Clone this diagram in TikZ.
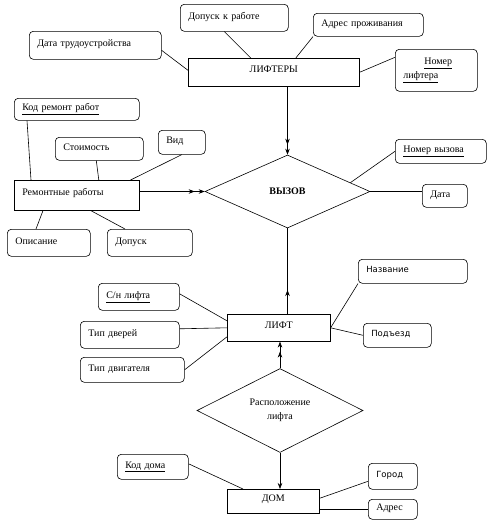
\documentclass[tikz,border=0pt]{standalone}
\usepackage{fontspec}
\setmainfont{Liberation Serif}
\newfontfamily\verd{DejaVu Sans}
\usetikzlibrary{arrows.meta, shapes.geometric, decorations.markings}

\begin{document}
\begin{tikzpicture}[x=1pt, y=-1pt, >={Stealth[length=6pt, width=4.5pt]}, line width=0.6pt,
			font=\fontsize{10}{14.5}\selectfont,
			attr/.style={draw, rounded corners=4pt, anchor=north west, align=left,
				inner xsep=8pt, inner ysep=0pt, text height=7pt, text depth=4pt},
			ent/.style={draw, anchor=north west, inner sep=0pt, text height=7pt, text depth=6pt},
			rel/.style={draw, diamond, inner sep=0pt},
			sf/.style={font=\verd\fontsize{8.5}{10}\selectfont},
			dbl/.style={-{Stealth[length=6pt, width=4.5pt, sep=4pt] Stealth[length=6pt, width=4.5pt]}},
			midarrow/.style={postaction={decorate},
				decoration={markings, mark=at position #1 with {\arrow{>}}}}]
		\useasboundingbox (0,0) rectangle (493,528);

		\node [attr, text width=92pt, minimum height=27pt] at (180,4) (dopusk) {Допуск к работе};
		\node [attr, text width=94pt, minimum height=23pt] at (313,13) (adrpr) {Адрес проживания};
		\node [attr, text width=116pt, minimum height=28pt] at (29,31) (datatr) {Дата трудоустройства};
		\node [ent, minimum width=171pt, minimum height=28pt] at (188,58) (lifters) {ЛИФТЕРЫ};
		\node [attr, text width=66pt, minimum height=42pt, text height={}, text depth={}]
			at (395,49) (nomlf) {\hspace*{21pt}\underline{Номер}\\\underline{лифтера}};

		\node [attr, text width=109pt, minimum height=22pt] at (14,98) (kodrem) {\underline{Код ремонт работ}};
		\node [attr, text width=72pt, minimum height=23pt] at (55,137) (stoim) {Стоимость};
		\node [attr, text width=31pt, minimum height=24pt] at (158,130) (vid) {Вид};
		\node [ent, text width=109pt, align=left, inner xsep=8pt, minimum height=30pt]
			at (14,180) (remont) {Ремонтные работы};
		\node [attr, text width=67pt, minimum height=27pt] at (7,229) (opis) {Описание};
		\node [attr, text width=69pt, minimum height=27pt] at (107,229) (dopuskrab) {Допуск};

		\node [rel, minimum width=165pt, minimum height=73pt] at (287.5,191.5) (vyzov) {\textbf{ВЫЗОВ}};
		\node [attr, text width=75pt, minimum height=24pt] at (395,139) (nomvz) {\underline{Номер вызова}};
		\node [attr, text width=29pt, minimum height=23pt] at (422,184) (data) {Дата};

		\node [ent, minimum width=103pt, minimum height=27pt] at (227,314) (lift) {ЛИФТ};
		\node [attr, text width=65pt, minimum height=27pt] at (98,283) (sn) {\underline{С/н лифта}};
		\node [attr, text width=83pt, minimum height=27pt] at (80,321) (tipdv) {Тип дверей};
		\node [attr, text width=88pt, minimum height=25pt] at (80,357) (tipdg) {Тип двигателя};
		\node [attr, sf, text width=93pt, minimum height=24pt] at (358,259) (nazv) {Название};
		\node [attr, sf, text width=52pt, minimum height=24pt] at (363,323) (podezd) {Подъезд};

		\node [rel, minimum width=166pt, minimum height=75pt, align=center]
			at (280,410.5) (rasp) {Расположение\\лифта};
		\node [ent, minimum width=92pt, minimum height=24pt] at (227,489) (dom) {ДОМ};
		\node [attr, text width=55pt, minimum height=25pt] at (117,454) (koddoma) {\underline{Код дома}};
		\node [attr, sf, text width=33pt, minimum height=26pt] at (368,463) (gorod) {Город};
		\node [attr, text width=33pt, minimum height=20pt] at (368,499) (adres) {Адрес};

		\draw ([xshift=-10pt]dopusk.south) -- ([xshift=-23pt]lifters.north);
		\draw (adrpr.south west) -- ([xshift=22pt]lifters.north);
		\draw ([yshift=-5pt]datatr.east) -- ([yshift=2pt]lifters.west);
		\draw (lifters.east) -- ([yshift=13pt]nomlf.west);
		\draw [dbl] (vyzov.north |- lifters.south) -- (vyzov.north);

		\draw ([xshift=13pt]kodrem.south west) -- ([xshift=17pt]remont.north west);
		\draw ([xshift=-3pt]stoim.south) -- ([xshift=22pt]remont.north);
		\draw (vid.south) -- ([xshift=-9pt]remont.north east);
		\draw ([xshift=29pt]remont.south west) -- ([xshift=29pt]opis.north west);
		\draw ([xshift=14pt]remont.south) -- ([xshift=18pt]dopuskrab.north west);
		\draw [dbl] (remont.east |- vyzov.west) -- (vyzov.west);

		\draw (vyzov.8) -- (nomvz.west);
		\draw (vyzov.east) -- (vyzov.east -| data.west);

		\draw [midarrow=0.28] (vyzov.south |- lift.north) -- (vyzov.south);
		\draw ([yshift=3pt]sn.east) -- ([yshift=7pt]lift.west);
		\draw ([yshift=6pt]tipdv.east) -- (lift.west);
		\draw (tipdg.east) -- ([yshift=-9pt]lift.west);
		\draw (nazv.south west) -- (lift.east);
		\draw (lift.east) -- (podezd.west);
		\draw [dbl] (rasp.north) -- (rasp.north |- lift.south);

		\draw [->] (rasp.south) -- (rasp.south |- dom.north);
		\draw ([yshift=3pt]koddoma.east) -- ([xshift=16pt]dom.north west);
		\draw ([yshift=3pt]dom.east) -- ([yshift=-5pt]gorod.west);
		\draw (adres.west -| dom.east) -- (adres.west);
	\end{tikzpicture}
\end{document}
